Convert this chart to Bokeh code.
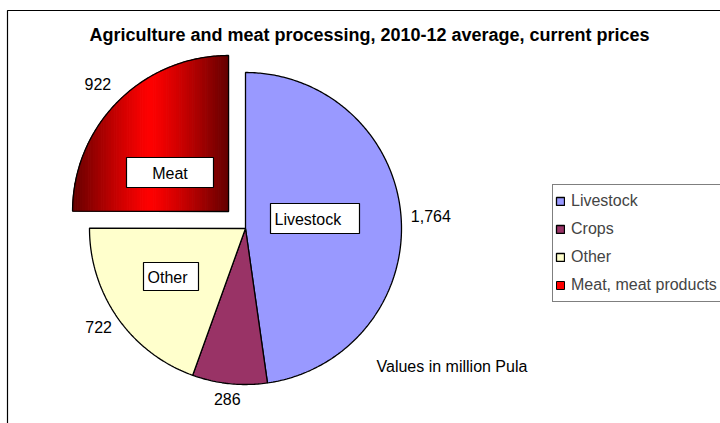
import numpy as np
from bokeh.plotting import figure
from bokeh.models import Range1d, Legend, LegendItem
from bokeh.embed import file_html
from bokeh.resources import INLINE
from bokeh.core.properties import value

# ---------------- data ----------------
categories = ["Livestock", "Crops", "Other", "Meat, meat products"]
values = [1764, 286, 722, 922]
value_labels = ["1,764", "286", "722", "922"]
slice_box_labels = ["Livestock", None, "Other", "Meat"]

TITLE = "Agriculture and meat processing, 2010-12 average, current prices"
NOTE = "Values in million Pula"

# ---------------- style / layout ----------------
colors = ["#9999FF", "#993366", "#FFFFCC", "#FF0000"]
explode = [0, 0, 0, 24]
FONT = "Liberation Sans"
W, H = 720, 423
CX, CY, R = 245, 228, 156
LABEL_R = 166
# manual text boxes (left, top, right, bottom) in pixels, as in the source
BOXES = {"Livestock": (270, 203, 359, 233), "Other": (143, 262, 198, 290), "Meat": (126, 157, 213, 187)}

p = figure(width=W, height=H, x_range=Range1d(0, W), y_range=Range1d(H, 0),
           output_backend="svg", toolbar_location=None, min_border=0,
           x_axis_location=None, y_axis_location=None)
p.grid.visible = False
p.outline_line_color = None
p.background_fill_color = "white"
p.border_fill_color = "white"

# chart area border (extends beyond the window on right & bottom)
p.quad(left=[7], right=[W + 20], top=[10], bottom=[H + 20], fill_color=None,
       line_color="black", line_width=1.2)

total = float(sum(values))
fracs = np.array(values) / total
ends = np.cumsum(fracs) * 360.0
starts = ends - fracs * 360.0


def slice_poly(cx, cy, a0, a1, r):
    n = max(3, int(abs(a1 - a0) * 1.5))
    th = np.radians(np.linspace(a0, a1, n))
    xs = [cx] + list(cx + r * np.sin(th))
    ys = [cy] + list(cy - r * np.cos(th))
    return xs, ys


def clip_x(xs, ys, x0, x1):
    pts = list(zip(xs, ys))

    def clip(pts, inside, inter):
        out = []
        for i in range(len(pts)):
            cur, prev = pts[i], pts[i - 1]
            if inside(cur):
                if not inside(prev):
                    out.append(inter(prev, cur))
                out.append(cur)
            elif inside(prev):
                out.append(inter(prev, cur))
        return out

    def ix(xc):
        def f(a, b):
            t = (xc - a[0]) / (b[0] - a[0])
            return (xc, a[1] + t * (b[1] - a[1]))
        return f

    pts = clip(pts, lambda q: q[0] >= x0, ix(x0))
    if pts:
        pts = clip(pts, lambda q: q[0] <= x1, ix(x1))
    return [q[0] for q in pts], [q[1] for q in pts]


renderers = []
for i, cat in enumerate(categories):
    mid = np.radians((starts[i] + ends[i]) / 2)
    cx = CX + explode[i] * np.sin(mid)
    cy = CY - explode[i] * np.cos(mid)
    xs, ys = slice_poly(cx, cy, starts[i], ends[i], R)
    if cat.startswith("Meat"):
        # horizontal gradient dark red -> red -> dark red, drawn as strips
        xmin, xmax = min(xs), max(xs)
        n = 60
        edges = np.linspace(xmin, xmax, n + 1)
        sx, sy, sc = [], [], []
        for k in range(n):
            a, b = clip_x(xs, ys, edges[k], edges[k + 1])
            if len(a) < 3:
                continue
            t = abs(((edges[k] + edges[k + 1]) / 2 - (xmin + xmax) / 2) / ((xmax - xmin) / 2))
            rr = int(255 - (255 - 100) * t ** 1.2)
            sx.append(a)
            sy.append(b)
            sc.append("#%02x0000" % rr)
        p.patches(xs=sx, ys=sy, fill_color=sc, line_color=sc, line_width=1)
        p.patch(xs, ys, fill_color=None, line_color="black", line_width=1.3)
        leg = p.patch([np.nan], [np.nan], fill_color=colors[i], line_color="black", line_width=1)
        renderers.append(leg)
    else:
        r = p.patch(xs, ys, fill_color=colors[i], line_color="black", line_width=1.3)
        renderers.append(r)

    # value labels outside the slice
    d = (np.sin(mid), -np.cos(mid))
    txt = value_labels[i]
    w = 8.9 * len(txt.replace(",", "")) + (4 if "," in txt else 0)
    h = 11
    lx = cx + LABEL_R * d[0] + d[0] * w / 2
    ly = cy + LABEL_R * d[1] + d[1] * h / 2
    if cat.startswith("Meat"):
        lx -= 4
        ly -= 6
    p.text(x=[lx], y=[ly], text=[txt], text_font=value(FONT), text_font_size="16px",
           text_align="center", text_baseline="middle", text_color="black")

    # boxed slice name
    name = slice_box_labels[i]
    if name:
        l, t, rgt, b = BOXES[name]
        p.quad(left=[l], right=[rgt], top=[t], bottom=[b], fill_color="white",
               line_color="black", line_width=1.2)
        if name == "Meat":
            p.text(x=[(l + rgt) / 2], y=[(t + b) / 2 + 1], text=[name], text_font=value(FONT),
                   text_font_size="16px", text_align="center", text_baseline="middle")
        else:
            p.text(x=[l + 4], y=[(t + b) / 2 + 1], text=[name], text_font=value(FONT),
                   text_font_size="16px", text_align="left", text_baseline="middle")

# title and note
p.text(x=[369], y=[34], text=[TITLE], text_font=value(FONT), text_font_size="18px",
       text_font_style="bold", text_align="center", text_baseline="middle")
p.text(x=[376], y=[366], text=[NOTE], text_font=value(FONT), text_font_size="16px",
       text_align="left", text_baseline="middle")

legend = Legend(items=[LegendItem(label=c, renderers=[r]) for c, r in zip(categories, renderers)],
                location=(552, H - 302), orientation="vertical",
                label_text_font=FONT, label_text_font_size="16px",
                glyph_width=10, glyph_height=10, label_standoff=6,
                label_height=28, label_width=160, spacing=0, padding=2, margin=0,
                border_line_color="black", border_line_width=1,
                background_fill_color="white", background_fill_alpha=1.0)
p.add_layout(legend, "center")

open("out.html", "w").write(file_html(p, INLINE))
